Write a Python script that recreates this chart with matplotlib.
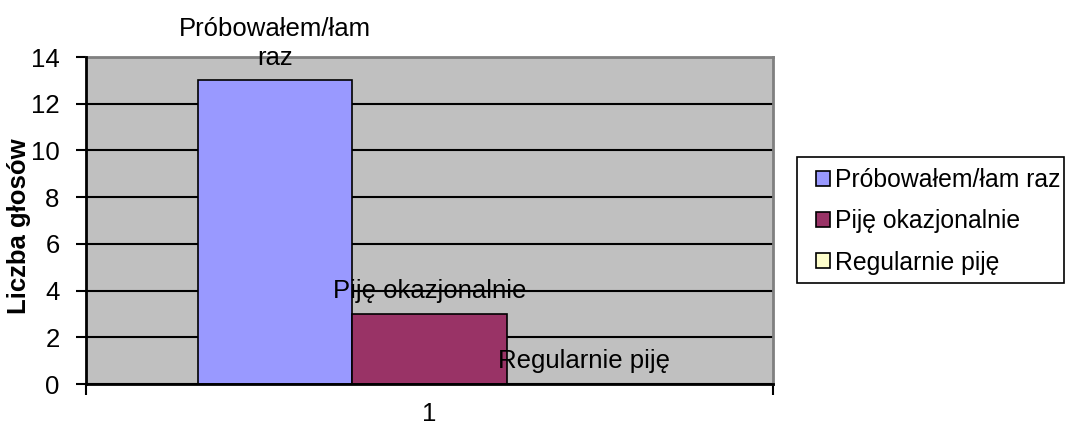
import matplotlib
matplotlib.use("Agg")
import matplotlib.pyplot as plt
from matplotlib.patches import Patch, Rectangle

plt.rcParams['font.family'] = ['Liberation Sans', 'DejaVu Sans']

categories = ["1"]
series_names = ["Próbowałem/łam raz", "Piję okazjonalnie", "Regularnie piję"]
bar_labels = ["Próbowałem/łam\nraz", "Piję okazjonalnie", "Regularnie piję"]
values = [13, 3, 0]
colors = ["#9999FF", "#993366", "#FFFFCC"]
y_ticks = [0, 2, 4, 6, 8, 10, 12, 14]

W, H = 1068, 429
fig = plt.figure(figsize=(W / 100, H / 100), dpi=100)
ax = fig.add_axes([86 / W, 1 - 384 / H, (773 - 86) / W, (384 - 57) / H])
ax.set_facecolor("#C0C0C0")

width = 0.225
offsets = [-width, 0, width]
for name, v, c, off, lab in zip(series_names, values, colors, offsets, bar_labels):
    ax.bar(off, v, width=width, color=c, edgecolor="black", linewidth=1.2,
           zorder=3, label=name)
    ax.text(off, v + 0.45, lab, ha="center", va="bottom", fontsize=18.5,
            linespacing=1.25, zorder=4)

ax.set_xlim(-0.5, 0.5)
ax.set_ylim(0, 14)
ax.set_yticks(y_ticks)
ax.set_yticklabels([str(t) for t in y_ticks], fontsize=18.5)
ax.set_xticks([-0.5, 0.5], minor=False)
ax.set_xticklabels(["", ""])
ax.set_xticks([0], minor=True)
ax.set_xticklabels(categories, minor=True, fontsize=18.5)
ax.tick_params(axis="x", which="minor", length=0, pad=13)
ax.tick_params(axis="x", which="major", length=8, width=1.5, direction="out")
ax.tick_params(axis="y", length=7, width=1.5, direction="out", pad=12)

ax.yaxis.grid(True, color="black", linewidth=1.5, zorder=1)
ax.set_axisbelow(True)
for side in ["top", "right"]:
    ax.spines[side].set_color("#808080")
    ax.spines[side].set_linewidth(2)
for side in ["left", "bottom"]:
    ax.spines[side].set_color("black")
    ax.spines[side].set_linewidth(2)
    ax.spines[side].set_zorder(5)

# axis title sits close to the tick labels
fig.text(19 / W, 1 - 226 / H, "Liczba głosów", rotation=90, ha="center",
         va="center", fontsize=18.5, fontweight="bold")

# legend box
fig.add_artist(Rectangle((797 / W, 1 - 283 / H), (1064 - 797) / W, (283 - 157) / H,
                         transform=fig.transFigure, fill=False,
                         edgecolor="black", linewidth=1.2))
handles = [Patch(facecolor=c, edgecolor="black", linewidth=1.2) for c in colors]
fig.legend(handles, series_names, loc="upper left",
           bbox_to_anchor=(816 / W, 1 - 168 / H),
           frameon=False, fontsize=17.8, handlelength=0.55, handleheight=0.55,
           handletextpad=0.22, labelspacing=0.7, borderpad=0,
           borderaxespad=0)

fig.savefig("out.png", dpi=100)
